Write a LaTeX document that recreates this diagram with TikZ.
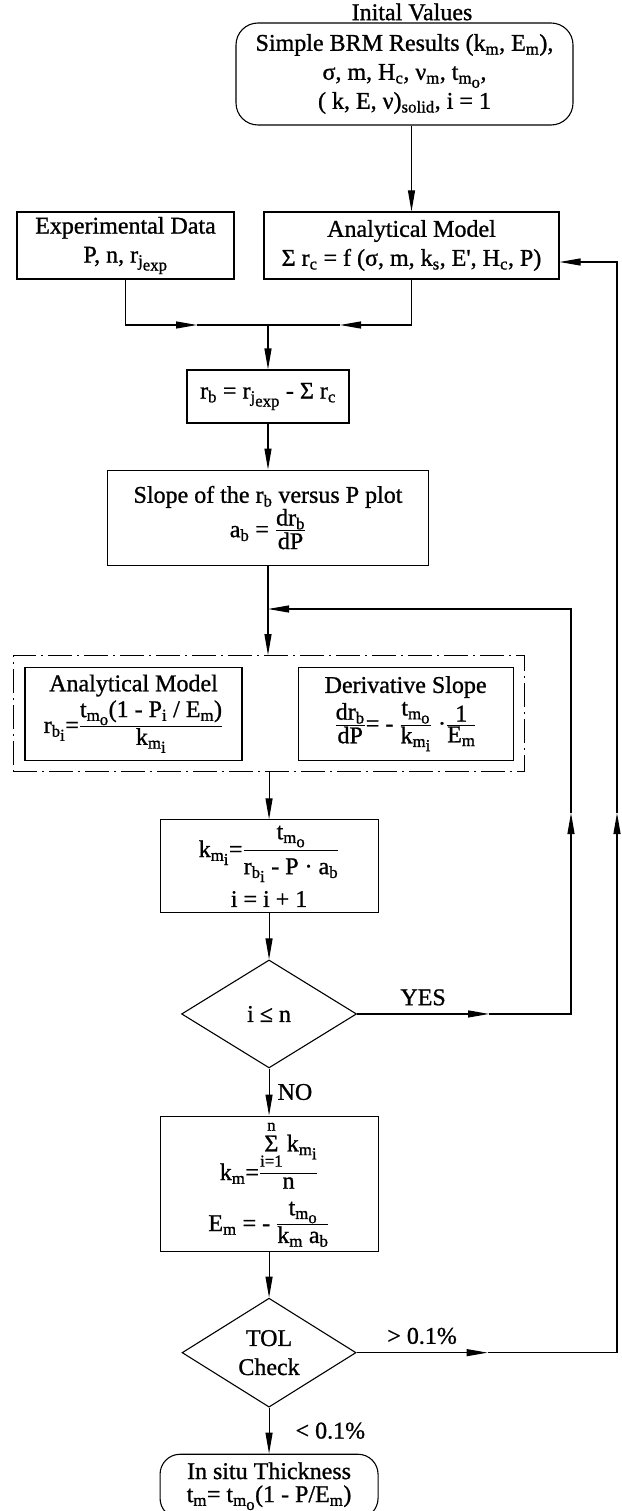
\documentclass[tikz,border=0pt]{standalone}
\usepackage{amsmath}
\usepackage{fontspec}
\setmainfont{Liberation Serif}[FakeBold=1.0]
\usetikzlibrary{arrows.meta,positioning,shapes.geometric,fit}

\newcommand{\sbs}[1]{\textsubscript{#1}}
\newcommand{\ssb}[1]{\raisebox{-0.25em}{#1}}
\newcommand{\frc}[2]{\genfrac{}{}{1pt}{1}{\textstyle\text{#1}}{\textstyle\text{#2}}}
\newcommand{\dfrc}[2]{\genfrac{}{}{1pt}{0}{\text{#1}}{\text{#2}}}

\begin{document}
\begin{tikzpicture}[
  x=1pt, y=-1pt,
  font=\fontsize{24}{29}\selectfont,
  line/.style={line width=1.1pt},
  block/.style={draw, line width=1.1pt, align=center, inner sep=2pt},
  term/.style={block, rounded corners=22pt},
  decision/.style={draw, line width=1.1pt, diamond, aspect=1.6, align=center, inner sep=0pt},
  group/.style={draw, line width=1.1pt, dash pattern=on 24pt off 5pt on 2pt off 5pt, inner sep=11pt},
  arr/.style={line, -{Triangle[length=21pt, width=7pt]}},
  lbl/.style={inner sep=0pt}
]
  \useasboundingbox (0,0) rectangle (621,1511);

  % inputs
  \node[term, minimum width=337pt, minimum height=102pt] (init) at (404.5,74)
    {Simple BRM Results (k\sbs{m}, E\sbs{m}),\\ σ, m, H\sbs{c}, ν\sbs{m}, t\sbs{m\ssb{o}},\\ ( k, E, ν)\sbs{solid}, i = 1};
  \node[lbl] (title) at (412,12) {Inital Values};
  \node[block, minimum width=217pt, minimum height=67pt] (exp) at (125.5,245.5)
    {Experimental Data\\ P, n, r\sbs{j\ssb{exp}}};
  \node[block, minimum width=295pt, minimum height=67pt] (ana) at (411.5,245.5)
    {Analytical Model\\ Σ r\sbs{c} = f (σ, m, k\sbs{s}, E\textquotesingle, H\sbs{c}, P)};

  % main column
  \node[block, minimum width=162pt, minimum height=53pt] (rb) at (268,396.5)
    {r\sbs{b} = r\sbs{j\ssb{exp}} - Σ r\sbs{c}};
  \node[block, below=46pt of rb, minimum width=321pt, minimum height=95pt] (slope)
    {Slope of the r\sbs{b} versus P plot\\ a\sbs{b} = $\frc{dr\sbs{b}}{dP}$};
  \node[block, below=101pt of slope.south, xshift=-134.5pt, minimum width=217pt, minimum height=93pt] (imodel)
    {Analytical Model\\[3pt] r\sbs{b\ssb{i}}=$\frc{t\sbs{m\ssb{o}}(1 - P\sbs{i} / E\sbs{m})}{k\sbs{m\ssb{i}}}$};
  \node[block, right=55pt of imodel, minimum width=215pt, minimum height=93pt] (islope)
    {Derivative Slope\\[3pt] $\frc{dr\sbs{b}}{dP}$= - $\frc{t\sbs{m\ssb{o}}}{k\sbs{m\ssb{i}}}$ ·$\frc{1}{E\sbs{m}}$};
  \node[group, fit=(imodel)(islope)] (grp) {};
  \node[block, below=47pt of grp, minimum width=218pt, minimum height=93pt] (kmi)
    {k\sbs{m\ssb{i}}=$\dfrc{t\sbs{m\ssb{o}}}{r\sbs{b\ssb{i}} - P · a\sbs{b}}$\\[8pt] i = i + 1};
  \node[decision, below=46pt of kmi, minimum width=175pt, minimum height=108pt] (cnt) {i ≤ n};
  \node[block, below=47pt of cnt, minimum width=218pt, minimum height=135pt] (km)
    {k\sbs{m}=$\genfrac{}{}{1pt}{1}{\textstyle\overset{\text{n}}{\underset{\text{i=1}}{\text{Σ}}}\,\text{k\sbs{m\ssb{i}}}\rule[-21pt]{0pt}{0pt}}{\textstyle\text{n}}$\\[12pt]
     E\sbs{m} = - $\frc{t\sbs{m\ssb{o}}}{k\sbs{m} a\sbs{b}}$};
  \node[decision, below=46pt of km, minimum width=174pt, minimum height=109pt] (tol) {TOL\\Check};
  \node[term, below=46pt of tol, minimum width=218pt, minimum height=64pt, rounded corners=20pt,
        inner sep=1pt, font=\fontsize{24}{23}\selectfont] (thick)
    {In situ Thickness\\ t\sbs{m}= t\sbs{m\ssb{o}}(1 - P/E\sbs{m})};

  % joints and bends
  \coordinate (mj) at (268,325);
  \coordinate (expin) at (197,325);
  \coordinate (anaout) at (340,325);
  \coordinate (lj) at (268,609);
  \coordinate (yesA) at ([xshift=132pt]cnt.east);
  \coordinate (yesB) at (571,813);
  \coordinate (tolA) at ([xshift=131pt]tol.east);
  \coordinate (tolB) at (617,813);
  \coordinate (anafb) at ([yshift=-16.5pt]ana.east);

  \draw[arr] (init.south -| ana.north) -- (ana.north);
  \draw[arr] (exp.south) |- (expin);
  \draw[line] (expin) -- (mj);
  \draw[arr] (ana.south) |- (anaout);
  \draw[line] (anaout) -- (mj);
  \draw[arr] (mj) -- (rb);
  \draw[arr] (rb) -- (slope);
  \draw[arr] (slope.south) -- (slope.south |- grp.north);
  \draw[arr] (grp) -- (kmi);
  \draw[arr] (kmi) -- (cnt);
  \draw[arr] (cnt) -- node[lbl, right=8pt] (no) {NO} (km);
  \draw[arr] (km) -- (tol);
  \draw[arr] (tol) -- node[lbl, right=26pt] (lt) {< 0.1\%} (thick);

  % loops back
  \draw[arr] (cnt.east) -- node[lbl, above=8pt] (yes) {YES} (yesA);
  \draw[arr] (yesA) -| (yesB);
  \draw[arr] (yesB) |- (lj);
  \draw[arr] (tol.east) -- node[lbl, above=8pt] (gt) {> 0.1\%} (tolA);
  \draw[arr] (tolA) -| (tolB);
  \draw[arr] (tolB) |- (anafb);
\end{tikzpicture}
\end{document}
